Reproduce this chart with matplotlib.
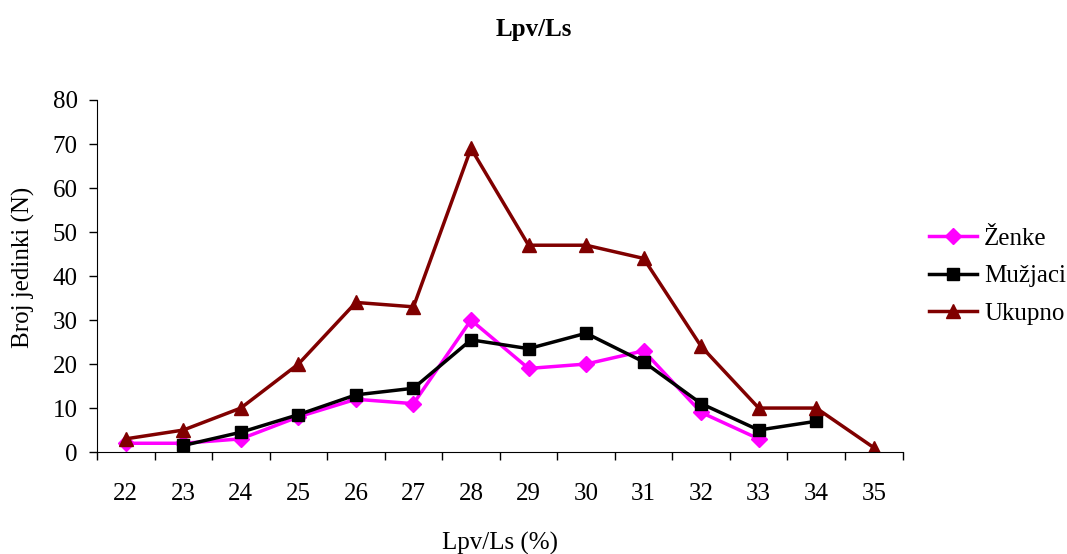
import numpy as np
from matplotlib import pyplot as plt

plt.rcParams['font.family'] = ['Liberation Serif', 'DejaVu Serif']

categories = ['22', '23', '24', '25', '26', '27', '28', '29', '30', '31', '32', '33', '34', '35']
zenke = [2, 2, 3, 8, 12, 11, 30, 19, 20, 23, 9, 3, np.nan, np.nan]
muzjaci = [np.nan, 1.5, 4.5, 8.5, 13, 14.5, 25.5, 23.5, 27, 20.5, 11, 5, 7, np.nan]
ukupno = [3, 5, 10, 20, 34, 33, 69, 47, 47, 44, 24, 10, 10, 1]

x = np.arange(len(categories))

fig = plt.figure(figsize=(10.67, 5.54), dpi=100)
ax = fig.add_axes([0.0909, 0.184, 0.755, 0.6355])

ax.plot(x, zenke, color='#ff00ff', lw=2.5, marker='D', ms=8, label='Ženke')
ax.plot(x, muzjaci, color='black', lw=2.5, marker='s', ms=9, label='Mužjaci')
ax.plot(x, ukupno, color='#800000', lw=2.5, marker='^', ms=10, label='Ukupno')

ax.set_xlim(-0.5, len(categories) - 0.5)
ax.set_ylim(0, 80)
ax.set_yticks(range(0, 81, 10))
ax.set_xticks(x)
ax.set_xticklabels(categories)
ax.set_xticks(np.arange(-0.5, len(categories), 1), minor=True)
ax.tick_params(axis='x', which='major', length=0, pad=22, labelsize=18)
ax.tick_params(axis='x', which='minor', length=6, width=1, direction='out')
ax.tick_params(axis='y', length=6, width=1, direction='out', pad=8, labelsize=18)

for s in ['top', 'right']:
    ax.spines[s].set_visible(False)

ax.set_ylabel('Broj jedinki (N)', fontsize=18)
ax.yaxis.set_label_coords(-0.077, 0.526)
ax.set_xlabel('Lpv/Ls (%)', fontsize=18, labelpad=20)
fig.suptitle('Lpv/Ls', fontsize=18, fontweight='bold', y=0.968)

ax.legend(loc='center left', bbox_to_anchor=(1.005, 0.5), frameon=False,
          fontsize=18, handlelength=1.9, handletextpad=0.3, labelspacing=0.6)

fig.savefig('out.png', dpi=100)
